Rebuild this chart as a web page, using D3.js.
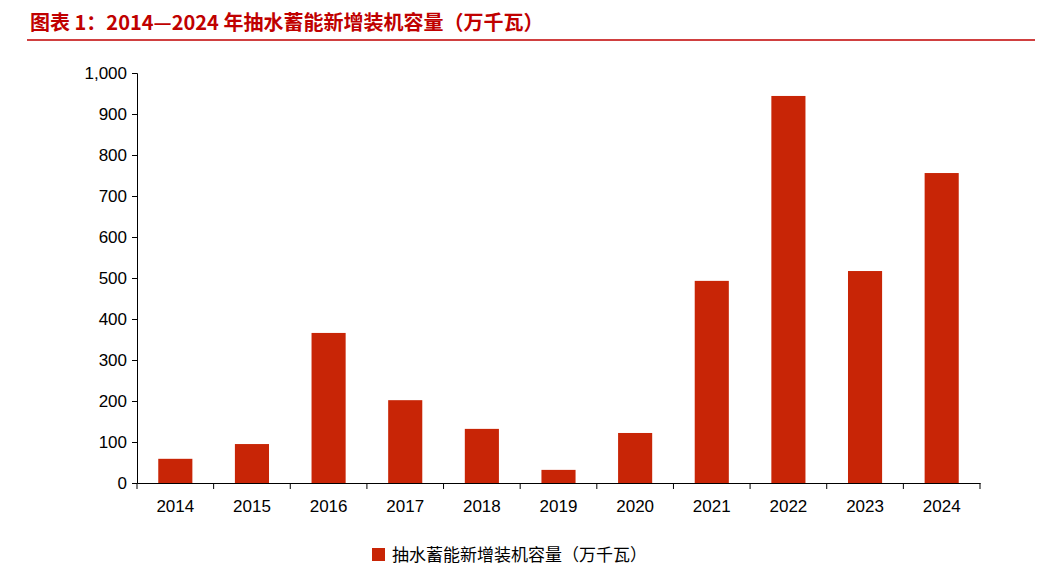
<!DOCTYPE html>
<html><head><meta charset="utf-8">
<script src="https://cdn.jsdelivr.net/npm/d3@7"></script>
<style>body{margin:0;background:#fff;}</style>
</head><body>
<svg id="c" width="1059" height="574"></svg>
<script>
const categories = ["2014","2015","2016","2017","2018","2019","2020","2021","2022","2023","2024"];
const values = [59,95,366,202,132,32,122,493,944,517,756];
const yTicks = [0,100,200,300,400,500,600,700,800,900,1000];
const seriesName = "抽水蓄能新增装机容量（万千瓦）";
const title = "图表 1：2014—2024 年抽水蓄能新增装机容量（万千瓦）";

const svg = d3.select("#c");
const red = "#c00000", bar = "#c82506";
svg.append("text").attr("x",30).attr("y",30).attr("fill",red)
  .attr("font-family","'Noto Sans CJK SC'").attr("font-weight","bold").attr("font-size",20)
  .text(title);
svg.append("line").attr("x1",27).attr("x2",1035).attr("y1",40).attr("y2",40).attr("stroke",red).attr("stroke-width",1.5);

const x = d3.scaleBand().domain(categories).range([137,980]).paddingInner(0.555).paddingOuter(0.2775);
const y = d3.scaleLinear().domain([0,1000]).range([483,73]);

const font = "'Liberation Sans', Arial, sans-serif";
const ya = svg.append("g").attr("transform","translate(137,0)")
  .call(d3.axisLeft(y).tickValues(yTicks).tickFormat(d3.format(",")).tickSize(5));
ya.selectAll("text").attr("font-family",font).attr("font-size",17).attr("fill","#000").attr("dx","-2");
ya.selectAll("line,path").attr("stroke","#000");

const xa = svg.append("g").attr("transform","translate(0,483)")
  .call(d3.axisBottom(x).tickSize(0).tickPadding(17));
xa.selectAll("text").attr("font-family",font).attr("font-size",17).attr("fill","#000");
xa.select("path").attr("stroke","#000");
// tick separators between bands
const step = x.step();
d3.range(categories.length+1).forEach(i=>{
  const px = 137 + i*(843/categories.length);
  svg.append("line").attr("x1",px).attr("x2",px).attr("y1",483).attr("y2",489).attr("stroke","#000");
});

svg.selectAll("rect.b").data(values).join("rect").attr("class","b")
  .attr("x",(d,i)=>x(categories[i])).attr("width",x.bandwidth())
  .attr("y",d=>y(d)).attr("height",d=>483-y(d)).attr("fill",bar);

svg.append("rect").attr("x",372).attr("y",548).attr("width",13).attr("height",13).attr("fill",bar);
svg.append("text").attr("x",392).attr("y",561).attr("font-family","'Noto Sans CJK SC'").attr("font-size",17)
  .attr("fill","#000").text(seriesName);
</script>
</body></html>
